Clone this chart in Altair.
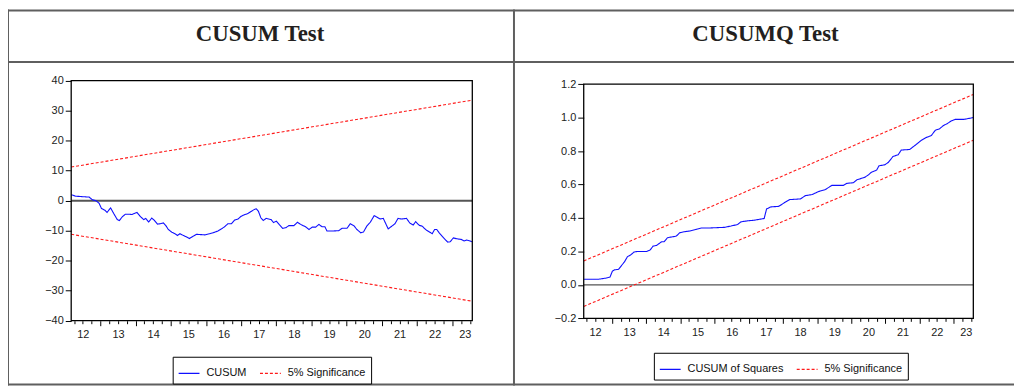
import altair as alt
import pandas as pd

# ---------------- data ----------------
cusum_t = [2012.17, 2012.30, 2012.54, 2012.68, 2012.77, 2012.87, 2012.96, 2013.03, 2013.13, 2013.19,
           2013.29, 2013.38, 2013.48, 2013.54, 2013.62, 2013.71, 2013.81, 2013.90, 2014.04, 2014.13,
           2014.23, 2014.29, 2014.37, 2014.46, 2014.53, 2014.62, 2014.70, 2014.79, 2014.86, 2014.93,
           2015.03, 2015.12, 2015.19, 2015.26, 2015.36, 2015.45, 2015.53, 2015.64, 2015.73, 2015.97,
           2016.11, 2016.25, 2016.34, 2016.44, 2016.53, 2016.62, 2016.72, 2016.81, 2016.91, 2017.00,
           2017.09, 2017.19, 2017.28, 2017.38, 2017.43, 2017.49, 2017.56, 2017.63, 2017.71, 2017.85,
           2017.92, 2018.00, 2018.08, 2018.18, 2018.27, 2018.36, 2018.50, 2018.60, 2018.69, 2018.83,
           2018.93, 2019.02, 2019.12, 2019.21, 2019.30, 2019.38, 2019.44, 2019.59, 2019.77, 2019.87,
           2020.01, 2020.10, 2020.20, 2020.29, 2020.40, 2020.48, 2020.57, 2020.67, 2020.78, 2020.85,
           2020.95, 2021.04, 2021.18, 2021.28, 2021.37, 2021.46, 2021.56, 2021.70, 2021.79, 2021.89,
           2021.96, 2022.06, 2022.15, 2022.24, 2022.36, 2022.43, 2022.50, 2022.56, 2022.64, 2022.73,
           2022.87, 2022.94, 2023.03, 2023.13, 2023.25, 2023.34, 2023.41, 2023.50, 2023.56]
cusum_v = [2.0, 1.5, 1.3, 1.2, 0.3, 0.0, -0.8, -2.6, -3.2, -3.9,
           -2.4, -4.3, -6.3, -6.6, -5.4, -4.5, -4.5, -4.6, -3.9, -5.2,
           -6.3, -5.9, -7.1, -5.8, -6.5, -7.8, -7.7, -7.4, -8.3, -9.6,
           -10.5, -11.0, -11.6, -11.0, -11.6, -12.1, -12.6, -11.8, -11.2, -11.4,
           -11.0, -10.5, -10.1, -9.4, -8.7, -7.7, -7.7, -6.5, -6.1, -5.2,
           -4.7, -4.3, -3.6, -2.9, -2.7, -3.5, -5.7, -6.6, -5.9, -6.3,
           -7.3, -6.8, -7.9, -9.2, -9.0, -8.3, -8.3, -7.2, -7.9, -8.7,
           -9.6, -8.8, -8.8, -7.9, -8.7, -8.7, -10.1, -10.1, -10.0, -9.2,
           -9.2, -7.7, -8.3, -9.6, -10.7, -10.4, -8.5, -7.2, -5.0, -5.4,
           -6.1, -5.9, -9.4, -8.5, -7.7, -5.9, -6.1, -5.9, -7.4, -8.1,
           -7.0, -8.2, -8.5, -9.6, -10.5, -11.0, -9.6, -9.6, -10.9, -12.1,
           -13.8, -13.7, -12.4, -12.7, -12.9, -13.4, -13.1, -13.4, -13.7]

sq_t = [2012.17, 2012.61, 2012.80, 2012.94, 2013.01, 2013.07, 2013.19, 2013.28, 2013.36, 2013.45,
        2013.54, 2013.64, 2013.74, 2014.01, 2014.11, 2014.20, 2014.30, 2014.45, 2014.52, 2014.62,
        2014.78, 2014.88, 2014.98, 2015.12, 2015.27, 2015.46, 2015.61, 2015.80, 2016.28, 2016.48,
        2016.67, 2016.77, 2016.96, 2017.16, 2017.45, 2017.52, 2017.64, 2017.88, 2018.03, 2018.20,
        2018.51, 2018.66, 2018.85, 2019.04, 2019.24, 2019.43, 2019.77, 2019.87, 2020.06, 2020.16,
        2020.40, 2020.50, 2020.59, 2020.74, 2020.81, 2020.98, 2021.08, 2021.22, 2021.37, 2021.46,
        2021.71, 2021.85, 2022.04, 2022.19, 2022.34, 2022.46, 2022.58, 2022.69, 2022.82, 2022.92,
        2023.04, 2023.30, 2023.56]
sq_v = [0.034, 0.034, 0.040, 0.047, 0.083, 0.090, 0.093, 0.117, 0.137, 0.169,
        0.179, 0.196, 0.200, 0.200, 0.208, 0.232, 0.236, 0.258, 0.258, 0.282,
        0.288, 0.292, 0.312, 0.318, 0.322, 0.332, 0.340, 0.340, 0.344, 0.352,
        0.361, 0.377, 0.383, 0.387, 0.397, 0.454, 0.466, 0.470, 0.490, 0.510,
        0.514, 0.534, 0.540, 0.558, 0.570, 0.595, 0.595, 0.607, 0.611, 0.628,
        0.644, 0.658, 0.674, 0.686, 0.712, 0.718, 0.732, 0.768, 0.778, 0.806,
        0.810, 0.832, 0.863, 0.881, 0.893, 0.925, 0.933, 0.952, 0.966, 0.980,
        0.990, 0.990, 1.000]

band_t = [2012.17, 2023.57]
cusum_upper = [11.2, 33.5]
cusum_lower = [-11.2, -33.5]
sq_upper = [0.143, 1.139]
sq_lower = [-0.129, 0.865]

T_DOMAIN = [2012.17, 2023.57]
L_YDOM = [-40, 40]
R_YDOM = [-0.2, 1.2]
L_YTICKS = [-40, -30, -20, -10, 0, 10, 20, 30, 40]
R_YTICKS = [-0.2, 0.0, 0.2, 0.4, 0.6, 0.8, 1.0, 1.2]
X_TICKS = [round(2012.25 + 0.25 * i, 2) for i in range(46)]

L_SERIES = ["CUSUM", "5% Significance"]
R_SERIES = ["CUSUM of Squares", "5% Significance"]
HEADERS = ["CUSUM Test", "CUSUMQ Test"]

# ---------------- layout (pixels) ----------------
W, H = 1014, 381
L_XR = [63.7, 468.0]
L_YR = [313.7, 71.7]
R_XR = [580.3, 973.0]
R_YR = [311.3, 75.3]
FONT = "Liberation Sans"
BORDER = "#5f5f5f"


def sc(domain, rng):
    return alt.Scale(domain=domain, range=rng, nice=False, zero=False)


def long_df(t, v, name, upper, lower, sig):
    rows = [{"t": a, "v": b, "series": name, "part": "main"} for a, b in zip(t, v)]
    rows += [{"t": a, "v": b, "series": sig, "part": "upper"} for a, b in zip(band_t, upper)]
    rows += [{"t": a, "v": b, "series": sig, "part": "lower"} for a, b in zip(band_t, lower)]
    return pd.DataFrame(rows)


def x_axis(offset):
    return alt.Axis(
        orient="bottom", offset=offset, values=X_TICKS, domain=False, grid=False,
        ticks=True, tickColor="black", tickWidth=1,
        tickSize={"condition": {"test": "datum.value % 1 == 0", "value": 5}, "value": 3},
        labelExpr="datum.value % 1 == 0.5 ? format(floor(datum.value) % 100, '02d') : ''",
        labelFont=FONT, labelFontSize=11, labelColor="#222", labelPadding=5,
        labelOverlap=False, labelFlush=5, labelFlushOffset=1, title=None,
    )


def y_axis(offset, values, fmt):
    return alt.Axis(
        orient="left", offset=offset, values=values, format=fmt, domain=False, grid=False,
        tickSize=6, tickColor="black", tickWidth=1, labelPadding=2,
        labelFont=FONT, labelFontSize=11, labelColor="#222", labelOverlap=False, title=None,
    )


def legend(x, y):
    return alt.Legend(
        title=None, orient="none", legendX=x, legendY=y, direction="horizontal",
        symbolType="stroke", symbolSize=441, symbolStrokeWidth=1.2,
        labelFont=FONT, labelFontSize=11, labelColor="#111", labelOffset=6,
        columnPadding=10, padding=5, strokeColor="black", fillColor="white", labelLimit=0,
    )


def panel(df, xr, yr, ydom, yticks, yfmt, series, xoff, yoff, lx, ly, zero_w):
    xs = sc(T_DOMAIN, xr)
    ys = sc(ydom, yr)
    lg = legend(lx, ly)
    zero = alt.Chart(pd.DataFrame({"t": [T_DOMAIN[0]], "t2": [T_DOMAIN[1]], "v": [0]})).mark_rule(
        color="#555555", strokeWidth=zero_w
    ).encode(
        x=alt.X("t:Q", scale=xs, axis=None), x2="t2:Q",
        y=alt.Y("v:Q", scale=ys, axis=None),
    )
    lines = alt.Chart(df).mark_line(strokeWidth=1.1).encode(
        x=alt.X("t:Q", scale=xs, axis=x_axis(xoff)),
        y=alt.Y("v:Q", scale=ys, axis=y_axis(yoff, yticks, yfmt)),
        color=alt.Color("series:N", scale=alt.Scale(domain=series, range=["#1010ff", "#ff1a1a"]), legend=lg),
        strokeDash=alt.StrokeDash("series:N", scale=alt.Scale(domain=series, range=[[1, 0], [3, 2]]), legend=lg),
        detail="part:N",
        order="t:Q",
    )
    frame = alt.Chart(pd.DataFrame({"t": [T_DOMAIN[0]], "t2": [T_DOMAIN[1]], "lo": [ydom[0]], "hi": [ydom[1]]})).mark_rect(
        fill="transparent", stroke="black", strokeWidth=1.3
    ).encode(
        x=alt.X("t:Q", scale=xs, axis=None), x2="t2:Q",
        y=alt.Y("hi:Q", scale=ys, axis=None), y2="lo:Q",
    )
    return [zero, lines, frame]


ONE = pd.DataFrame({"a": [0]})


def hrule(x1, x2, y):
    return alt.Chart(ONE).mark_rule(color=BORDER, strokeWidth=2).encode(
        x=alt.value(x1), x2=alt.value(x2), y=alt.value(y))


def vrule(x, y1, y2):
    return alt.Chart(ONE).mark_rule(color=BORDER, strokeWidth=2).encode(
        x=alt.value(x), y=alt.value(y1), y2=alt.value(y2))


def header(text, x):
    return alt.Chart(ONE).mark_text(
        text=text, font="Liberation Serif", fontWeight="bold", fontSize=23,
        color="#231f20", align="center", baseline="alphabetic",
    ).encode(x=alt.value(x), y=alt.value(32))


left = panel(long_df(cusum_t, cusum_v, L_SERIES[0], cusum_upper, cusum_lower, L_SERIES[1]),
             L_XR, L_YR, L_YDOM, L_YTICKS, "d", L_SERIES, L_YR[0] - H, -L_XR[0], 166, 350, 2)
right = panel(long_df(sq_t, sq_v, R_SERIES[0], sq_upper, sq_lower, R_SERIES[1]),
              R_XR, R_YR, R_YDOM, R_YTICKS, ".1f", R_SERIES, R_YR[0] - H, -R_XR[0], 651, 346, 1.3)

decor = [
    hrule(0, W, 1), hrule(0, W, 53), hrule(0, W, 378),
    vrule(0, 0, 379), vrule(510, 0, 379),
    header(HEADERS[0], 254), header(HEADERS[1], 763.5),
]

chart = alt.layer(*(decor + left + right)).resolve_scale(
    x="independent", y="independent", color="independent", strokeDash="independent"
).properties(
    width=W, height=H, autosize=alt.AutoSizeParams(type="none"), padding=0
).configure(background="white").configure_view(stroke=None)

chart.save("out.html", embed_options={"renderer": "svg", "actions": False})
